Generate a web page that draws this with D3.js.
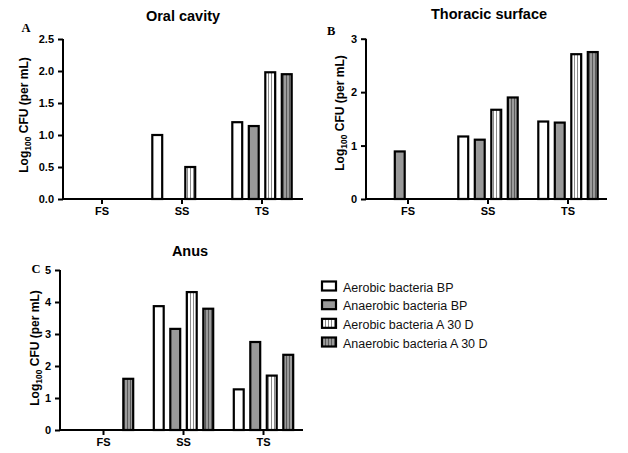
<!DOCTYPE html>
<html>
<head>
<meta charset="utf-8">
<script src="https://cdn.jsdelivr.net/npm/d3@7"></script>
<style>
  html, body { margin: 0; padding: 0; background: #fff; }
  svg { display: block; }
  text { font-family: "Liberation Sans", Arial, sans-serif; }
</style>
</head>
<body>
<svg id="chart" width="628" height="453"></svg>
<script>
// ---- data ----
const categories = ["FS", "SS", "TS"];
const seriesNames = ["Aerobic bacteria BP", "Anaerobic bacteria BP", "Aerobic bacteria A 30 D", "Anaerobic bacteria A 30 D"];
// values per category, per series (0 = no bar)
const oralValues     = [[0, 0, 0, 0], [1.0, 0, 0.5, 0], [1.2, 1.14, 1.98, 1.95]];
const thoracicValues = [[0, 0.89, 0, 0], [1.17, 1.11, 1.67, 1.9], [1.45, 1.43, 2.71, 2.75]];
const anusValues     = [[0, 0, 0, 1.6], [3.87, 3.16, 4.31, 3.79], [1.27, 2.75, 1.7, 2.35]];
const oralTicks = [0, 0.5, 1.0, 1.5, 2.0, 2.5];
const thoracicTicks = [0, 1, 2, 3];
const anusTicks = [0, 1, 2, 3, 4, 5];
const panelTitles = ["Oral cavity", "Thoracic surface", "Anus"];
const panelLetters = ["A", "B", "C"];

const svg = d3.select("#chart");
const defs = svg.append("defs");

// stripe patterns
function stripePattern(id, bg, line) {
  const p = defs.append("pattern")
    .attr("id", id).attr("patternUnits", "userSpaceOnUse")
    .attr("width", 3).attr("height", 10);
  p.append("rect").attr("width", 3).attr("height", 10).attr("fill", bg);
  p.append("rect").attr("x", 1).attr("width", 1).attr("height", 10).attr("fill", line);
}
stripePattern("stripeWhite", "#ffffff", "#8a8a8a");
stripePattern("stripeGrey", "#9a9a9a", "#5a5a5a");
const fills = ["#ffffff", "#999999", "url(#stripeWhite)", "url(#stripeGrey)"];

function drawPanel(cfg) {
  const g = svg.append("g");
  const y = d3.scaleLinear().domain([0, cfg.ticks[cfg.ticks.length - 1]]).range([cfg.y0, cfg.y1]);
  const x0 = d3.scaleBand().domain(categories).range(cfg.xr).paddingInner(0).paddingOuter(0);
  const x1 = d3.scaleBand().domain(seriesNames).range([7, x0.bandwidth() - 7])
    .paddingInner(0.4).paddingOuter(0.2);

  // bars
  categories.forEach((c, ci) => {
    seriesNames.forEach((s, si) => {
      const v = cfg.values[ci][si];
      if (!v) return;
      g.append("rect")
        .attr("x", x0(c) + x1(s))
        .attr("y", y(v))
        .attr("width", x1.bandwidth())
        .attr("height", y(0) - y(v))
        .attr("fill", fills[si])
        .attr("stroke", "#000")
        .attr("stroke-width", 2.2);
    });
  });

  // y axis
  const yAxis = d3.axisLeft(y).tickValues(cfg.ticks).tickSize(5).tickPadding(4)
    .tickFormat(cfg.fmt);
  const ya = g.append("g").attr("transform", `translate(${cfg.ax},0)`).call(yAxis);
  ya.select(".domain").attr("stroke-width", 2).attr("d", `M0,${cfg.y0 + 1}V${cfg.y1}`);
  ya.selectAll(".tick line").attr("stroke-width", 2);
  ya.selectAll(".tick text").attr("font-size", 11).attr("font-weight", "bold")
    .attr("font-family", "'Liberation Sans', Arial, sans-serif").attr("fill", "#000");

  // x axis
  const xAxis = d3.axisBottom(x0).tickSize(5).tickPadding(3);
  const xa = g.append("g").attr("transform", `translate(0,${cfg.y0})`).call(xAxis);
  xa.select(".domain").attr("stroke-width", 2).attr("d", `M${cfg.ax - 1},0H${cfg.xEnd}`);
  xa.selectAll(".tick line").attr("stroke-width", 2);
  xa.selectAll(".tick text").attr("font-size", 11).attr("font-weight", "bold")
    .attr("font-family", "'Liberation Sans', Arial, sans-serif").attr("fill", "#000");

  // title
  g.append("text").attr("x", cfg.title[0]).attr("y", cfg.title[1])
    .attr("text-anchor", "middle").attr("font-size", 14.5).attr("font-weight", "bold")
    .text(cfg.titleText);

  // panel letter
  g.append("text").attr("x", cfg.letter[0]).attr("y", cfg.letter[1])
    .attr("font-family", "'Liberation Serif', 'Times New Roman', serif")
    .style("font-family", "'Liberation Serif', 'Times New Roman', serif")
    .attr("font-size", 12.5).attr("font-weight", "bold")
    .text(cfg.letterText);

  // y label
  const yl = g.append("text")
    .attr("transform", `translate(${cfg.ylab[0]},${cfg.ylab[1]}) rotate(-90)`)
    .attr("text-anchor", "middle").attr("font-size", 12).attr("font-weight", "bold");
  yl.append("tspan").text("Log");
  yl.append("tspan").attr("font-size", 8.5).attr("dy", 3).text("100");
  yl.append("tspan").attr("dy", -3).text(" CFU (per mL)");
}

drawPanel({
  values: oralValues, ticks: oralTicks, fmt: d3.format(".1f"),
  y0: 199, y1: 39, ax: 63, xr: [62, 302], xEnd: 303,
  title: [183, 20.5], titleText: panelTitles[0],
  letter: [21.5, 31.5], letterText: panelLetters[0],
  ylab: [28, 115]
});
drawPanel({
  values: thoracicValues, ticks: thoracicTicks, fmt: d3.format("d"),
  y0: 199, y1: 38.7, ax: 366, xr: [368, 608], xEnd: 607,
  title: [489, 19], titleText: panelTitles[1],
  letter: [327, 35], letterText: panelLetters[1],
  ylab: [344, 113]
});
drawPanel({
  values: anusValues, ticks: anusTicks, fmt: d3.format("d"),
  y0: 430, y1: 270, ax: 60, xr: [63.5, 303.5], xEnd: 303,
  title: [190, 255.5], titleText: panelTitles[2],
  letter: [31.5, 272.5], letterText: panelLetters[2],
  ylab: [39, 348]
});

// legend
const legend = svg.append("g");
seriesNames.forEach((s, i) => {
  const cy = 286 + i * 18.67;
  legend.append("rect").attr("x", 322).attr("y", cy - 4.5).attr("width", 14).attr("height", 9)
    .attr("fill", fills[i]).attr("stroke", "#000").attr("stroke-width", 2.2);
  legend.append("text").attr("x", 343).attr("y", cy + 5.5)
    .attr("font-size", 12.5).attr("fill", "#111").text(s);
});
</script>
</body>
</html>
